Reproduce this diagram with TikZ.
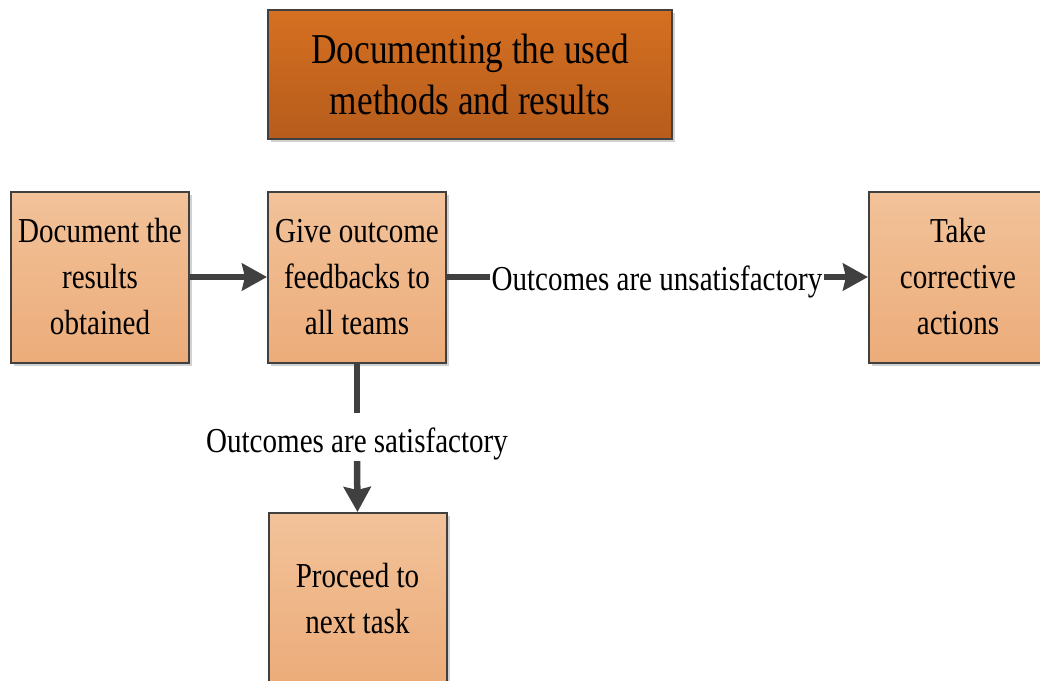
\documentclass[tikz,border=0pt]{standalone}
\usepackage{fontspec}
\setmainfont{Liberation Serif}[FakeStretch=0.83]
\usetikzlibrary{arrows.meta,shadows}
\definecolor{boxtop}{RGB}{242,194,153}
\definecolor{boxbot}{RGB}{236,172,122}
\definecolor{titletop}{RGB}{213,112,33}
\definecolor{titlebot}{RGB}{182,92,28}
\definecolor{edgegray}{RGB}{64,64,64}
\begin{document}
\begin{tikzpicture}[x=1pt,y=-1pt,
  boxshadow/.style={drop shadow={shadow xshift=3pt,shadow yshift=-3pt,fill=black,opacity=0.18}},
  stepbox/.style={draw=edgegray,line width=2pt,top color=boxtop,bottom color=boxbot,
    minimum width=178pt,minimum height=171pt,align=center,inner sep=0pt,
    font=\fontsize{35}{46}\selectfont,boxshadow},
  titlebox/.style={draw=edgegray,line width=2.5pt,top color=titletop,bottom color=titlebot,
    minimum width=404pt,minimum height=129pt,align=center,inner sep=0pt,
    font=\fontsize{42.5}{51}\selectfont,boxshadow},
  flow/.style={draw=edgegray,line width=6.5pt},
  flowarrow/.style={flow,-{Stealth[length=25pt,width=27pt,inset=3pt]}},
  flowlabel/.style={inner sep=0pt,font=\fontsize{35}{46}\selectfont}
]
\useasboundingbox (0,0) rectangle (1040,680);
\clip (0,0) rectangle (1040,680);

% heading
\node[titlebox] (title) at (470,74.5) {Documenting the used\\methods and results};

% process steps
\node[stepbox] (doc)  at (100,277) {Document the\\results\\obtained};
\node[stepbox] (give) at (357,277) {Give outcome\\feedbacks to\\all teams};
\node[stepbox] (take) at (958,277) {Take\\corrective\\actions};
\node[stepbox] (next) at (357.5,598.5) {Proceed to\\next task};

% branch labels
\node[flowlabel,inner xsep=1pt,anchor=base] (unsat) at (657,290) {Outcomes are unsatisfactory};
\node[flowlabel,text height=39pt,text depth=9pt,anchor=base] (sat) at (357,452) {Outcomes are satisfactory};

% connectors
\draw[flowarrow] (doc.east) -- (give.west);
\draw[flow] (give.east) -- (give.east -| unsat.west);
\draw[flowarrow] (give.east -| unsat.east) -- (take.west);
\draw[flow] (give.south) -- (sat.north);
\draw[flowarrow] (sat.south) -- (next.north);
\end{tikzpicture}
\end{document}
